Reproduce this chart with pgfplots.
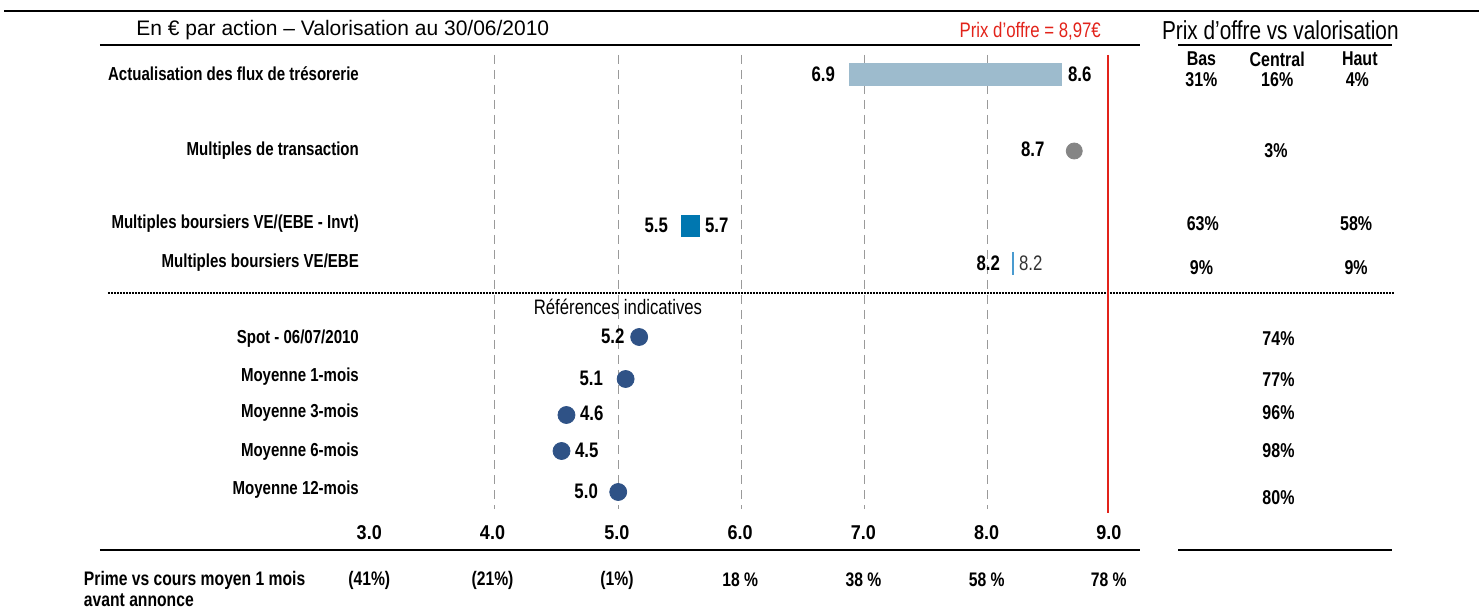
\documentclass[border=0pt]{standalone}
\usepackage{pgfplots}
\pgfplotsset{compat=1.18}
\usepackage{fontspec}
\setmainfont{Liberation Sans}
\newfontfamily\narrowfont[FakeStretch=0.8]{Liberation Sans}
\newfontfamily\tickfont[FakeStretch=0.9]{Liberation Sans}
\definecolor{dcfbar}{HTML}{9DBBCD}
\definecolor{boursier}{HTML}{0077B0}
\definecolor{boursline}{HTML}{4A9BD0}
\definecolor{refdot}{HTML}{2F5286}
\definecolor{transdot}{HTML}{858585}
\definecolor{offre}{HTML}{E2231A}
\definecolor{gridgray}{HTML}{9A9A9A}
\begin{document}
\begin{tikzpicture}
\begin{axis}[
  scale only axis, width=739.5pt, height=304.5pt,
  xmin=-0.016, xmax=11.984, ymin=0, ymax=609, y dir=reverse,
  axis lines=none, xtick=\empty, ytick=\empty, clip=false,
  every node/.append style={inner sep=0pt},
]
% rules
\draw[black, line width=0.6pt] (axis cs:0.02,11) -- (axis cs:11.984,11);
\draw[black, line width=0.9pt] (axis cs:0.795,45) -- (axis cs:9.233,45);
\draw[black, line width=0.9pt] (axis cs:9.542,45) -- (axis cs:11.278,45);
\draw[black, line width=0.9pt, dash pattern=on 1pt off 0.5pt] (axis cs:0.860,293) -- (axis cs:11.302,293);
\draw[black, line width=0.9pt] (axis cs:0.795,550) -- (axis cs:9.233,550);
\draw[black, line width=0.9pt] (axis cs:9.542,550) -- (axis cs:11.278,550);
% grid
\pgfplotsinvokeforeach{4,5,6,7,8}{
  \draw[gridgray, line width=0.5pt, dash pattern=on 4.5pt off 3pt] (axis cs:#1,55) -- (axis cs:#1,509);
}
\draw[offre, line width=1pt] (axis cs:8.97,55) -- (axis cs:8.97,513);

% data
\addplot[fill=dcfbar, draw=none] coordinates {(6.87,63) (8.6,63) (8.6,86) (6.87,86)} -- cycle;
\addplot[fill=boursier, draw=none] coordinates {(5.51,215) (5.66,215) (5.66,237) (5.51,237)} -- cycle;
\addplot[boursline, line width=1.1pt] coordinates {(8.2,252) (8.2,275)};
\addplot[only marks, mark=*, mark size=4pt, transdot] coordinates {(8.70,151)};
\addplot[only marks, mark=*, mark size=4.25pt, refdot] coordinates {
  (5.17,337) (5.06,379) (4.58,415) (4.54,451) (5.00,492)};

% titles
\node[anchor=west, font=\fontsize{10.5}{12}\selectfont] at (axis cs:1.033,30) {En € par action – Valorisation au 30/06/2010};
\node[anchor=east, text=offre, font=\narrowfont\fontsize{10.5}{12}\selectfont] at (axis cs:8.973,31) {Prix d’offre = 8,97€};
\node[anchor=west, font=\narrowfont\fontsize{13}{15}\selectfont] at (axis cs:9.355,30) {Prix d’offre vs valorisation};

% row labels
\begin{scope}[every node/.style={anchor=east, font=\narrowfont\bfseries\fontsize{9.4}{11}\selectfont}]
\node at (axis cs:2.953,74) {Actualisation des flux de trésorerie};
\node at (axis cs:2.953,151) {Multiples de transaction};
\node at (axis cs:2.953,224) {Multiples boursiers VE/(EBE - Invt)};
\node at (axis cs:2.953,263) {Multiples boursiers VE/EBE};
\node at (axis cs:2.953,339) {Spot - 06/07/2010};
\node at (axis cs:2.953,377) {Moyenne 1-mois};
\node at (axis cs:2.953,413) {Moyenne 3-mois};
\node at (axis cs:2.953,452) {Moyenne 6-mois};
\node at (axis cs:2.953,490) {Moyenne 12-mois};
\end{scope}
\node[font=\narrowfont\fontsize{10.45}{12}\selectfont] at (axis cs:4.998,307) {Références indicatives};

% value labels
\begin{scope}[every node/.style={font=\narrowfont\bfseries\fontsize{10.5}{12}\selectfont}]
\node[anchor=east] at (axis cs:6.816,74) {6.9};
\node[anchor=west] at (axis cs:8.593,74) {8.6};
\node[anchor=east] at (axis cs:8.515,149) {8.7};
\node[anchor=east] at (axis cs:5.46,225) {5.5};
\node[anchor=west] at (axis cs:5.647,225) {5.7};
\node[anchor=east] at (axis cs:8.154,263) {8.2};
\node[anchor=east] at (axis cs:5.108,336) {5.2};
\node[anchor=east] at (axis cs:4.933,378) {5.1};
\node[anchor=west] at (axis cs:4.633,413) {4.6};
\node[anchor=west] at (axis cs:4.592,450) {4.5};
\node[anchor=east] at (axis cs:4.892,491) {5.0};
\end{scope}
\node[anchor=west, text=black!80, font=\narrowfont\fontsize{10.5}{12}\selectfont] at (axis cs:8.195,263) {8.2};

% right table
\begin{scope}[every node/.style={font=\narrowfont\bfseries\fontsize{10}{12}\selectfont}]
\node at (axis cs:9.732,59) {Bas};
\node at (axis cs:10.347,59) {Central};
\node at (axis cs:11.017,59) {Haut};
\node at (axis cs:9.732,80) {31\%};
\node at (axis cs:10.347,80) {16\%};
\node at (axis cs:10.997,80) {4\%};
\node at (axis cs:10.337,151) {3\%};
\node at (axis cs:9.743,224) {63\%};
\node at (axis cs:10.987,224) {58\%};
\node at (axis cs:9.732,268) {9\%};
\node at (axis cs:10.987,268) {9\%};
\node at (axis cs:10.357,339) {74\%};
\node at (axis cs:10.357,380) {77\%};
\node at (axis cs:10.357,413) {96\%};
\node at (axis cs:10.357,451) {98\%};
\node at (axis cs:10.357,498) {80\%};
\end{scope}

% scale labels and premium row
\begin{scope}[every node/.style={font=\tickfont\bfseries\fontsize{10}{12}\selectfont}]
\node at (axis cs:2.98,533) {3.0};
\node at (axis cs:3.98,533) {4.0};
\node at (axis cs:4.99,533) {5.0};
\node at (axis cs:5.99,533) {6.0};
\node at (axis cs:6.99,533) {7.0};
\node at (axis cs:7.99,533) {8.0};
\node at (axis cs:8.98,533) {9.0};
\end{scope}
\begin{scope}[every node/.style={font=\narrowfont\bfseries\fontsize{9.8}{12}\selectfont}]
\node at (axis cs:2.98,580) {(41\%)};
\node at (axis cs:3.98,580) {(21\%)};
\node at (axis cs:4.99,580) {(1\%)};
\node at (axis cs:5.99,580) {18 \%};
\node at (axis cs:6.99,580) {38 \%};
\node at (axis cs:7.99,580) {58 \%};
\node at (axis cs:8.98,580) {78 \%};
\node[anchor=west] at (axis cs:0.608,580) {Prime vs cours moyen 1 mois};
\node[anchor=west] at (axis cs:0.608,600) {avant annonce};
\end{scope}
\end{axis}
\pgfresetboundingbox
\path[use as bounding box] (current axis.south west) rectangle (current axis.north east);
\end{tikzpicture}
\end{document}
